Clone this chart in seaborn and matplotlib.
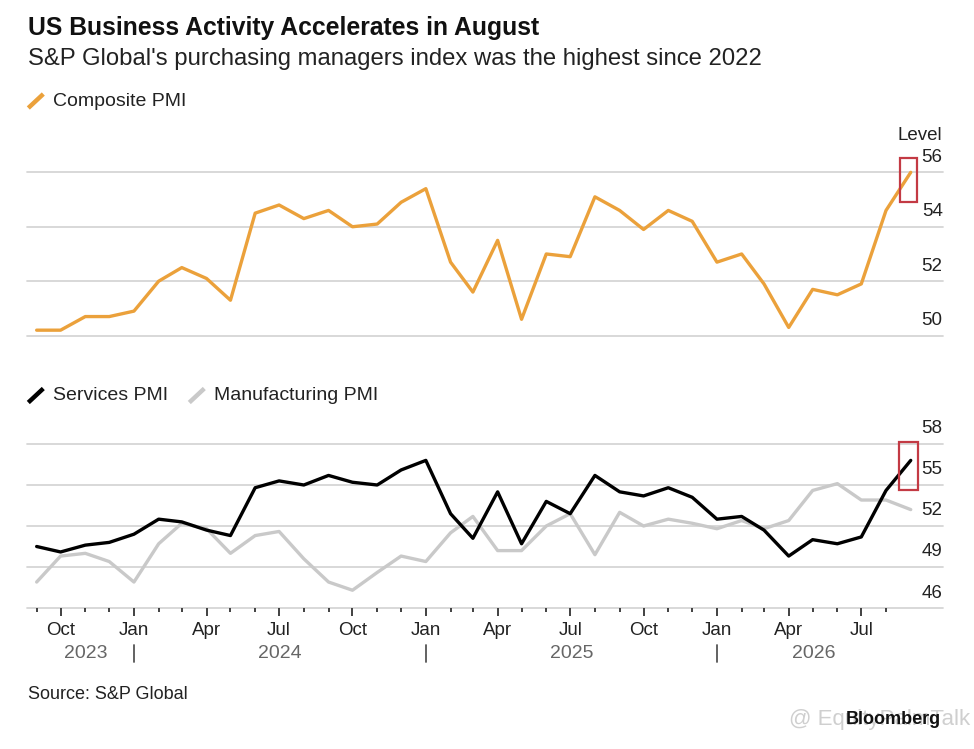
import pandas as pd
import matplotlib
matplotlib.use('Agg')
import matplotlib.pyplot as plt
import matplotlib.dates as mdates
import matplotlib.transforms as mtransforms
from matplotlib.lines import Line2D
from matplotlib.patches import Rectangle
import seaborn as sns

# monthly readings, Sep 2023 .. Sep 2026
months = pd.date_range('2023-09-01', periods=37, freq='MS')
composite = [50.2, 50.2, 50.7, 50.7, 50.9, 52.0, 52.5, 52.1, 51.3, 54.5,
             54.8, 54.3, 54.6, 54.0, 54.1, 54.9, 55.4, 52.7, 51.6, 53.5,
             50.6, 53.0, 52.9, 55.1, 54.6, 53.9, 54.6, 54.2, 52.7, 53.0,
             51.9, 50.3, 51.7, 51.5, 51.9, 54.6, 56.0]
services = [50.5, 50.1, 50.6, 50.8, 51.4, 52.5, 52.3, 51.7, 51.3, 54.8,
            55.3, 55.0, 55.7, 55.2, 55.0, 56.1, 56.8, 52.9, 51.1, 54.5,
            50.7, 53.8, 52.9, 55.7, 54.5, 54.2, 54.8, 54.1, 52.5, 52.7,
            51.7, 49.8, 51.0, 50.7, 51.2, 54.6, 56.8]
manufacturing = [47.9, 49.8, 50.0, 49.4, 47.9, 50.7, 52.2, 51.8, 50.0, 51.3,
                 51.6, 49.6, 47.9, 47.3, 48.6, 49.8, 49.4, 51.5, 52.7, 50.2,
                 50.2, 52.0, 52.9, 49.9, 53.0, 52.0, 52.5, 52.2, 51.8, 52.4,
                 51.8, 52.4, 54.6, 55.1, 53.9, 53.9, 53.2]

top_levels = [50, 52, 54, 56]
bottom_levels = [46, 49, 52, 55, 58]
quarter_labels = {1: 'Jan', 4: 'Apr', 7: 'Jul', 10: 'Oct'}
years = [2023, 2024, 2025, 2026]

c_comp = '#EBA13B'
c_serv = '#000000'
c_manu = '#C9C9C9'
c_grid = '#D6D6D6'
c_red = '#C33A44'

sns.set_theme(style='white')
plt.rcParams['font.family'] = ['Liberation Sans', 'DejaVu Sans']

df = pd.DataFrame({'date': months, 'Composite PMI': composite,
                   'Services PMI': services, 'Manufacturing PMI': manufacturing})

fig = plt.figure(figsize=(9.74, 7.49), dpi=100)
ax1 = fig.add_axes([0.0274, 0.5501, 0.9404, 0.2496])
ax2 = fig.add_axes([0.0274, 0.18825, 0.9404, 0.24433])

sns.lineplot(data=df, x='date', y='Composite PMI', ax=ax1, color=c_comp, lw=2.4, legend=False)
sns.lineplot(data=df, x='date', y='Manufacturing PMI', ax=ax2, color=c_manu, lw=2.4, legend=False)
sns.lineplot(data=df, x='date', y='Services PMI', ax=ax2, color=c_serv, lw=2.4, legend=False)

xlo = months[0] - pd.Timedelta(days=12.5)
xhi = months[-1] + pd.Timedelta(days=40)
for ax in (ax1, ax2):
    ax.set_xlim(xlo, xhi)
    ax.set_xlabel('')
    ax.set_ylabel('')
    ax.set_yticks([])
    for s in ax.spines.values():
        s.set_visible(False)
    ax.patch.set_alpha(0)

ax1.set_ylim(49.95, 56.82)
ax2.set_ylim(46, 59.39)
ax1.set_xticks([])

# gridlines and right-side labels sitting above them
for ax, levels in ((ax1, top_levels), (ax2, bottom_levels)):
    lab_tr = mtransforms.offset_copy(ax.get_yaxis_transform(), fig=fig, x=0, y=15, units='dots')
    for v in levels:
        ax.axhline(v, color=c_grid, lw=1.3, zorder=0, clip_on=False)
        ax.text(1.0, v, str(v), transform=lab_tr, ha='right', va='center',
                fontsize=13.5, color='#222222')

# month ticks on the lower panel
tick_months = months[:-1]
major = [m for m in tick_months if m.month in quarter_labels]
minor = [m for m in tick_months if m.month not in quarter_labels]
ax2.set_xticks(major)
ax2.set_xticklabels([quarter_labels[m.month] for m in major])
ax2.set_xticks(minor, minor=True)
ax2.tick_params(axis='x', which='major', bottom=True, length=6, width=1.3,
                color='#333333', pad=4, labelsize=13.5, labelcolor='#222222')
ax2.tick_params(axis='x', which='minor', bottom=True, length=3, width=1.3, color='#333333')

# year labels and separators
yr_tr = mtransforms.blended_transform_factory(ax2.transData, fig.transFigure)
for yr in years:
    lo = max(pd.Timestamp(f'{yr}-01-01'), months[0])
    hi = min(pd.Timestamp(f'{yr + 1}-01-01'), months[-1])
    mid = lo + (hi - lo) / 2
    ax2.text(mid, 1 - 653 / 749, str(yr), transform=yr_tr, ha='center', va='center',
             fontsize=14, color='#666666', clip_on=False)
for m in tick_months:
    if m.month == 1:
        x = mdates.date2num(m)
        ax2.add_line(Line2D([x, x], [1 - 645 / 749, 1 - 662 / 749], transform=yr_tr,
                            color='#555555', lw=1.3, clip_on=False))

# red highlight boxes around the latest reading
x0 = mdates.date2num(months[-1] - pd.Timedelta(days=13.5))
ax1.add_patch(Rectangle((x0, 54.92), 21.5, 1.59, fill=False, ec=c_red, lw=1.6, zorder=5))
x0 = mdates.date2num(months[-1] - pd.Timedelta(days=15))
ax2.add_patch(Rectangle((x0, 54.63), 23.5, 3.49, fill=False, ec=c_red, lw=1.6, zorder=5))

# headline texts
fig.text(0.0287, 0.9626, 'US Business Activity Accelerates in August',
         fontsize=17.8, fontweight='bold', va='center', color='#111111')
fig.text(0.0287, 0.921, "S&P Global's purchasing managers index was the highest since 2022",
         fontsize=17.2, va='center', color='#222222')
fig.text(0.967, 1 - 135 / 749, 'Level', ha='right', va='center', fontsize=13.5, color='#222222')

# legends drawn as short slanted strokes
def legend_item(x_px, y_px, color, label):
    fig.add_artist(Line2D([x_px / 974, (x_px + 15) / 974],
                          [1 - (y_px + 7) / 749, 1 - (y_px - 7) / 749],
                          color=color, lw=3.2, solid_capstyle='butt'))
    fig.text((x_px + 25) / 974, 1 - y_px / 749, label, fontsize=14, va='center', color='#222222')

legend_item(28.3, 101, c_comp, 'Composite PMI')
legend_item(28.3, 395.5, c_serv, 'Services PMI')
legend_item(189.3, 395.5, c_manu, 'Manufacturing PMI')

fig.text(0.0287, 0.0721, 'Source: S&P Global', fontsize=13, va='center', color='#222222')
fig.text(0.81, 0.040, '@ EquityPalmTalk', fontsize=16, va='center', color='#CFCFCF')
fig.text(0.966, 0.040, 'Bloomberg', ha='right', va='center', fontsize=13,
         fontweight='bold', color='#111111')

fig.savefig('out.png', dpi=100)
